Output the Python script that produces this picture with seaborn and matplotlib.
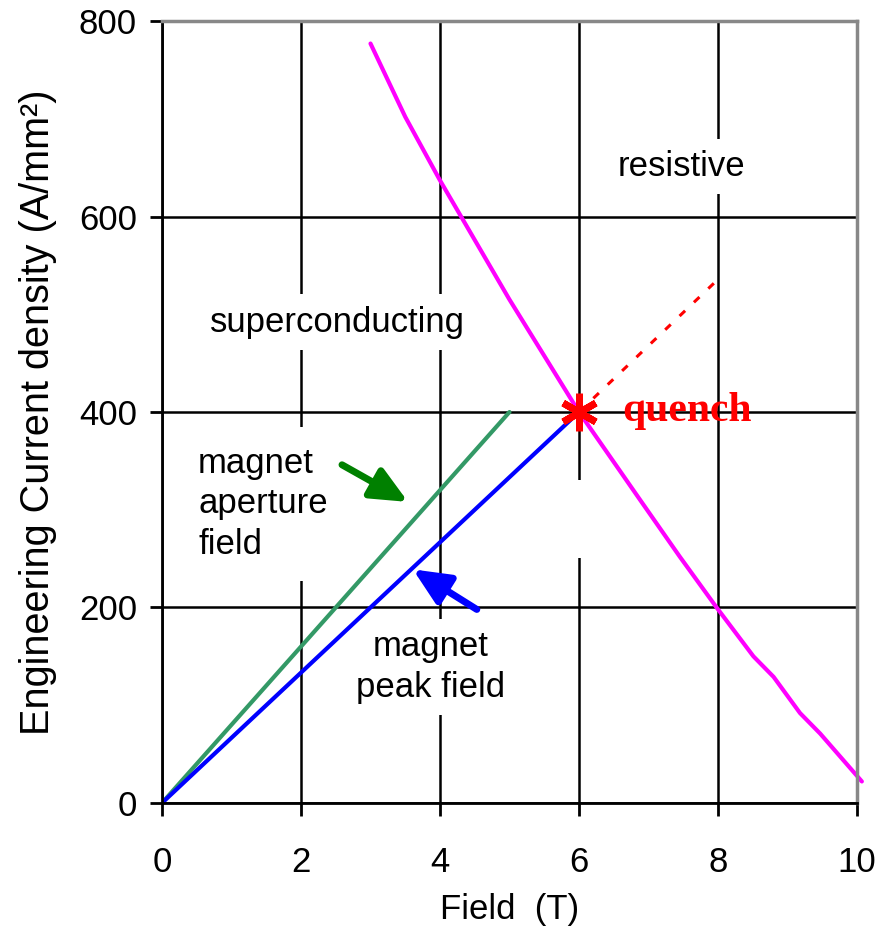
import numpy as np
import seaborn as sns
import matplotlib.pyplot as plt
from matplotlib.patches import Rectangle

# values
field_aperture = [0, 5]
jc_aperture = [0, 400]
field_peak = [0, 6]
jc_peak = [0, 400]
field_quench = [6, 7.96]
jc_quench = [400, 533]
field_crit = [3.0, 3.5, 4.0, 5.0, 6.0, 6.88, 7.45, 7.98, 8.51, 8.8, 9.18, 9.47, 10.07]
jc_crit = [777, 702, 637, 515, 400, 310, 252, 200, 150, 129, 92, 71, 22]
x_ticks = [0, 2, 4, 6, 8, 10]
y_ticks = [0, 200, 400, 600, 800]

sns.set_style("white")
plt.rcParams['font.family'] = ['Liberation Sans', 'DejaVu Sans']
plt.rcParams['text.color'] = 'black'
plt.rcParams['axes.labelcolor'] = 'black'
plt.rcParams['xtick.color'] = 'black'
plt.rcParams['ytick.color'] = 'black'

fig = plt.figure(figsize=(8.94, 9.27), dpi=100)
ax = fig.add_axes([0.1812, 0.1338, 0.7774, 0.8435])

sns.lineplot(x=field_aperture, y=jc_aperture, color='#339966', lw=3, ax=ax, sort=False)
sns.lineplot(x=field_peak, y=jc_peak, color='#0000ff', lw=3, ax=ax, sort=False)
sns.lineplot(x=field_crit, y=jc_crit, color='#ff00ff', lw=3, ax=ax, sort=False)
ax.lines[-1].set_clip_on(False)
sns.lineplot(x=field_quench, y=jc_quench, color='#ff0000', lw=2.2, ax=ax, sort=False,
             linestyle=(0, (2.5, 4)))
ax.plot(field_quench[:1], jc_quench[:1], marker=(6, 2, 0), ms=27, mew=5,
        color='#ff0000', ls='none', zorder=4)

ax.set_xlim(0, 10)
ax.set_ylim(0, 800)
ax.set_xticks(x_ticks)
ax.set_yticks(y_ticks)
ax.set_axisbelow(True)
ax.grid(True, color='black', lw=1.8)

for s in ['left', 'bottom']:
    ax.spines[s].set_color('black')
    ax.spines[s].set_linewidth(2)
for s in ['top', 'right']:
    ax.spines[s].set_color('#888888')
    ax.spines[s].set_linewidth(2.5)

ax.tick_params(axis='both', direction='out', length=9, width=2, color='black',
               labelsize=25, left=True, bottom=True)
ax.tick_params(axis='x', pad=22)
ax.tick_params(axis='y', pad=9)

ax.set_xlabel('Field  (T)', fontsize=25, labelpad=10)
ax.set_ylabel('Engineering Current density (A/mm²)', fontsize=28.5, labelpad=16)

box = dict(facecolor='white', edgecolor='none', pad=8)
kw = dict(fontsize=25, zorder=1.5)
ax.text(2.52, 492, 'superconducting', ha='center', va='center', bbox=box, **kw)
ax.text(7.48, 651, 'resistive', ha='center', va='center', bbox=box, **kw)
ax.text(0.52, 306, 'magnet\naperture\nfield', ha='left', va='center',
        linespacing=1.3, bbox=dict(facecolor='white', edgecolor='none', pad=14), **kw)
ax.text(3.86, 139, 'magnet\npeak field', ha='center', va='center',
        linespacing=1.3, bbox=box, **kw)
ax.text(6.62, 401, 'quench', fontsize=30, fontweight='bold', color='#ff0000',
        family=['Liberation Serif', 'DejaVu Serif'], ha='left', va='center')

# blank white patch hiding part of the 6 T gridline
ax.add_patch(Rectangle((5.93, 251), 0.14, 79, facecolor='white', edgecolor='none', zorder=1))

ax.annotate('', xy=(3.54, 308), xytext=(2.59, 346),
            arrowprops=dict(arrowstyle='-|>,head_length=2.2,head_width=1.0', lw=5,
                            color='#008000', mutation_scale=10, shrinkA=0, shrinkB=0))
ax.annotate('', xy=(3.61, 239), xytext=(4.53, 198),
            arrowprops=dict(arrowstyle='-|>,head_length=2.2,head_width=1.0', lw=5,
                            color='#0000ff', mutation_scale=10, shrinkA=0, shrinkB=0))

fig.savefig('out.png', dpi=100)
